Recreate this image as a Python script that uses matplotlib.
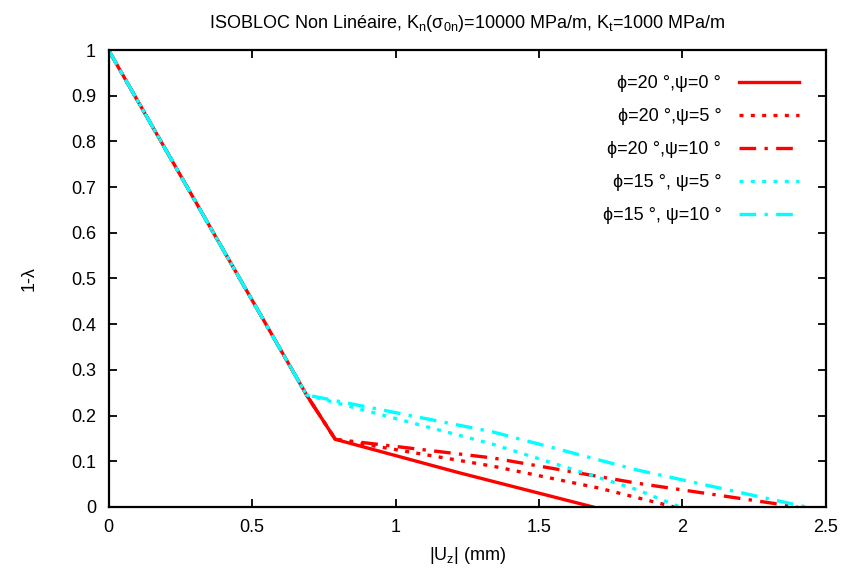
import matplotlib
matplotlib.use("Agg")
import matplotlib.pyplot as plt

plt.rcParams['font.family'] = ['Liberation Sans', 'DejaVu Sans']
plt.rcParams['mathtext.fontset'] = 'custom'
plt.rcParams['mathtext.rm'] = 'Liberation Sans'
plt.rcParams['mathtext.it'] = 'Liberation Sans'

labels = ["ϕ=20 °,ψ=0 °", "ϕ=20 °,ψ=5 °", "ϕ=20 °,ψ=10 °", "ϕ=15 °, ψ=5 °", "ϕ=15 °, ψ=10 °"]

x_a = [0.0, 0.69, 0.79, 1.22, 1.687]
y_a = [1.0, 0.245, 0.148, 0.075, 0.0]

x_b = [0.0, 0.69, 0.79, 1.34, 1.71, 1.97]
y_b = [1.0, 0.245, 0.148, 0.089, 0.041, 0.0]

x_c = [0.0, 0.69, 0.79, 1.34, 1.84, 2.40]
y_c = [1.0, 0.245, 0.148, 0.107, 0.052, 0.0]

x_d = [0.0, 0.69, 1.34, 1.84, 1.99]
y_d = [1.0, 0.245, 0.137, 0.038, 0.0]

x_e = [0.0, 0.69, 1.34, 1.84, 2.43]
y_e = [1.0, 0.245, 0.164, 0.081, 0.0]

xticks = [0, 0.5, 1, 1.5, 2, 2.5]
xticklabels = ["0", "0.5", "1", "1.5", "2", "2.5"]
yticks = [0, 0.1, 0.2, 0.3, 0.4, 0.5, 0.6, 0.7, 0.8, 0.9, 1.0]
yticklabels = ["0", "0.1", "0.2", "0.3", "0.4", "0.5", "0.6", "0.7", "0.8", "0.9", "1"]

fig = plt.figure(figsize=(8.48, 5.76), dpi=100)
ax = fig.add_axes([0.128, 0.12, 0.846, 0.793])

lw = 2.4
red = "#ff0000"
cyan = "#00ffff"
dot = (0, (1.2, 2.2))
dashdot = (0, (5, 2.5, 1, 2.5))

ax.plot(x_a, y_a, color=red, lw=lw, linestyle='-', label=labels[0])
ax.plot(x_b, y_b, color=red, lw=lw, linestyle=dot, label=labels[1])
ax.plot(x_c, y_c, color=red, lw=lw, linestyle=dashdot, label=labels[2])
ax.plot(x_d, y_d, color=cyan, lw=lw, linestyle=dot, label=labels[3])
ax.plot(x_e, y_e, color=cyan, lw=lw, linestyle=dashdot, label=labels[4])

ax.set_xlim(0, 2.5)
ax.set_ylim(0, 1)
ax.set_xticks(xticks)
ax.set_xticklabels(xticklabels)
ax.set_yticks(yticks)
ax.set_yticklabels(yticklabels)
ax.tick_params(direction='in', top=True, right=True, length=6, width=1.3, labelsize=13, pad=9)
for s in ax.spines.values():
    s.set_linewidth(1.6)

ax.set_xlabel("|U$_z$| (mm)", fontsize=13, labelpad=6)
ax.set_ylabel("1-λ", fontsize=13, labelpad=24)
ax.set_title("ISOBLOC Non Linéaire, K$_n$(σ$_{0n}$)=10000 MPa/m, K$_t$=1000 MPa/m", fontsize=13, pad=16)

leg = ax.legend(loc='upper right', frameon=False, fontsize=13, markerfirst=False,
                handlelength=3.3, handletextpad=1.0, labelspacing=0.88,
                bbox_to_anchor=(0.985, 0.98))
for t in leg.get_texts():
    t.set_ha('right')

fig.savefig("out.png", dpi=100)
